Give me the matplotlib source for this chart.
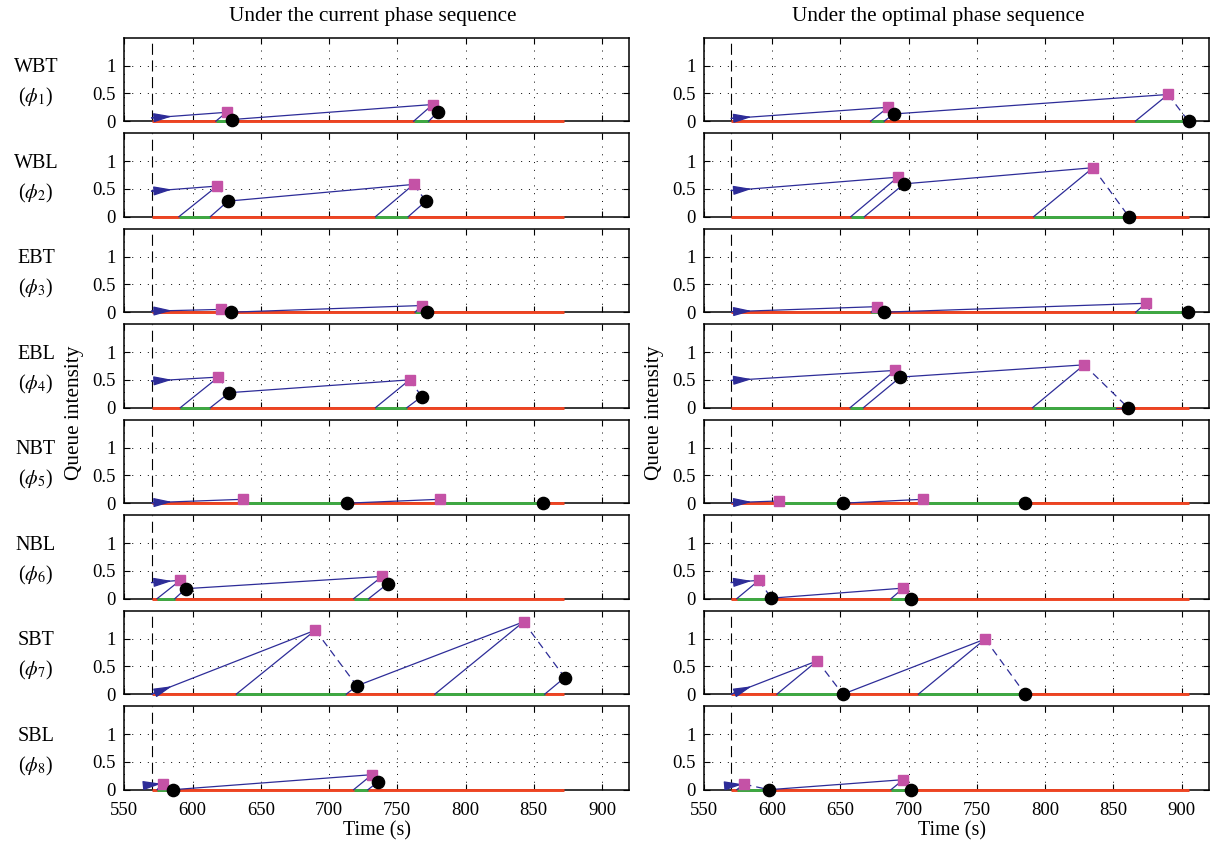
import matplotlib
matplotlib.use('Agg')
import matplotlib.pyplot as plt

plt.rcParams['font.family'] = ['Liberation Serif', 'DejaVu Serif']
plt.rcParams['mathtext.fontset'] = 'stix'

# ---------------- data ----------------
phase_names = ['WBT', 'WBL', 'EBT', 'EBL', 'NBT', 'NBL', 'SBT', 'SBL']
phase_syms = [r'($\phi_{%d}$)' % i for i in range(1, 9)]
col_titles = ['Under the current phase sequence', 'Under the optimal phase sequence']
xticks = [550, 600, 650, 700, 750, 800, 850, 900]
yticks = [0, 0.5, 1]
yticklabels = ['0', '0.5', '1']
t_start = 570
t_end_cur = 872
t_end_opt = 905

# current phase sequence
q0_cur = [0.06, 0.46, 0.02, 0.48, 0.01, 0.29, 0.0, 0.09]
gs_cur = [[617, 762], [590, 734], [619, 763], [591, 734], [634, 778], [574, 718], [632, 777.5], [574, 718]]
ge_cur = [[628, 773], [613, 758], [627, 769], [613, 757], [713, 857], [587, 729], [712.6, 858], [583.5, 728.5]]
sqt_cur = [[625, 776], [618, 762], [621, 768], [619, 759], [637, 781], [591, 739], [690, 842.5], [578, 731.5]]
sqq_cur = [[0.16, 0.30], [0.55, 0.58], [0.05, 0.12], [0.55, 0.50], [0.07, 0.07], [0.33, 0.40], [1.15, 1.30], [0.11, 0.27]]
ct_cur = [[629, 780], [626, 771], [628, 772], [627, 768], [713, 857], [595, 743], [720.4, 872.7], [585.6, 736]]
cq_cur = [[0.03, 0.17], [0.28, 0.28], [0.0, 0.0], [0.27, 0.20], [0.0, 0.0], [0.18, 0.27], [0.15, 0.30], [0.0, 0.14]]
dend_cur = [[None, None], [None, None], [None, None], [None, None],
            [(639, 0.0), (783, 0.0)], [None, None], [None, None], [None, None]]

# optimal phase sequence
q0_opt = [0.05, 0.47, 0.01, 0.49, 0.01, 0.29, 0.0, 0.08]
gs_opt = [[672, 866], [657.5, 791.5], [672.4, 866.3], [657, 790.7], [606, 711], [574, 687], [603.4, 707], [574, 687]]
ge_opt = [[682, 904], [667.5, 861], [678.5, 903], [666.8, 851.7], [651.7, 785.4], [595.6, 699.3], [651.7, 785.4], [596.8, 699.3]]
sqt_opt = [[685, 890], [692, 835], [676.8, 873.7], [690.2, 828.5], [604.9, 710.2], [590.2, 696], [633, 756], [579.3, 696]]
sqq_opt = [[0.25, 0.48], [0.71, 0.88], [0.10, 0.16], [0.67, 0.77], [0.04, 0.07], [0.33, 0.19], [0.60, 0.99], [0.10, 0.18]]
ct_opt = [[689, 905], [696.6, 861.3], [681.7, 904.6], [693.9, 860.7], [651.7, 785.4], [599.3, 701.7], [651.7, 785.4], [597.6, 701.7]]
cq_opt = [[0.13, 0.0], [0.59, 0.0], [0.0, 0.0], [0.55, 0.0], [0.0, 0.0], [0.01, 0.0], [0.0, 0.0], [0.0, 0.0]]
dend_opt = [[None, None], [None, None], [None, (877.3, 0.0)], [None, None],
            [(607, 0.0), (712.5, 0.0)], [None, None], [None, None], [None, None]]

# ---------------- style ----------------
BLUE = '#2d2c98'
RED = '#ee4422'
GREEN = '#3baa44'
MAG = '#c452a6'

W, H = 1210, 843
fig = plt.figure(figsize=(W / 100, H / 100), dpi=100)

col_left_px = [124.3, 704.0]
col_width_px = 505.0
row_top0 = 37.7
row_pitch = 95.5
row_h = 83.5


def draw_panel(ax, t_end, q0, gs, ge, st, sq, ct, cq, dend):
    ax.set_xlim(550, 920)
    ax.set_ylim(0, 1.5)
    ax.plot([t_start, t_start], [0, 1.5], color='k', lw=0.8, ls=(0, (10, 5)), zorder=2)
    ax.plot([t_start, t_end], [0, 0], color=RED, lw=2.1, solid_capstyle='butt', zorder=3, clip_on=False)
    for a, b in zip(gs, ge):
        ax.plot([a, b], [0, 0], color=GREEN, lw=2.1, solid_capstyle='butt', zorder=3.1, clip_on=False)
    prev_t, prev_q = t_start, q0
    for i in range(len(st)):
        ax.plot([prev_t, st[i]], [prev_q, sq[i]], color=BLUE, lw=0.9, zorder=4, clip_on=False)
        ax.plot([gs[i], st[i]], [0, sq[i]], color=BLUE, lw=0.9, zorder=4, clip_on=False)
        ax.plot([ge[i], ct[i]], [0, cq[i]], color=BLUE, lw=0.9, zorder=4, clip_on=False)
        de = dend[i] if dend[i] is not None else (ct[i], cq[i])
        ax.plot([st[i], de[0]], [sq[i], de[1]], color=BLUE, lw=0.9, ls=(0, (6, 4)), zorder=4, clip_on=False)
        prev_t, prev_q = ct[i], cq[i]
    # arrow on the initial queue line
    frac = min(15.0, 0.9 * (st[0] - t_start)) / (st[0] - t_start)
    tip = (t_start + frac * (st[0] - t_start), q0 + frac * (sq[0] - q0))
    ax.annotate('', xy=tip, xytext=(t_start, q0),
                arrowprops=dict(arrowstyle='-|>,head_length=0.8,head_width=0.2', color=BLUE,
                                lw=0.9, shrinkA=0, shrinkB=0, mutation_scale=14),
                zorder=5)
    for i in range(len(st)):
        ax.plot([st[i]], [sq[i]], 's', color=MAG, ms=6.8, mec=MAG, zorder=6, clip_on=False)
        ax.plot([ct[i]], [cq[i]], 'o', color='k', ms=8.8, zorder=7, clip_on=False)


columns = [
    (t_end_cur, q0_cur, gs_cur, ge_cur, sqt_cur, sqq_cur, ct_cur, cq_cur, dend_cur),
    (t_end_opt, q0_opt, gs_opt, ge_opt, sqt_opt, sqq_opt, ct_opt, cq_opt, dend_opt),
]

for c, data in enumerate(columns):
    t_end, q0s, gss, ges, sts, sqs, cts, cqs, dends = data
    for r in range(8):
        top = row_top0 + r * row_pitch
        ax = fig.add_axes([col_left_px[c] / W, 1 - (top + row_h) / H, col_width_px / W, row_h / H])
        draw_panel(ax, t_end, q0s[r], gss[r], ges[r], sts[r], sqs[r], cts[r], cqs[r], dends[r])
        ax.set_xticks(xticks)
        ax.set_yticks(yticks)
        ax.set_yticklabels(yticklabels)
        ax.grid(True, color='k', lw=0.7, ls=(0, (1, 7)))
        ax.set_axisbelow(True)
        ax.tick_params(direction='in', length=4, width=0.8, top=True, right=True,
                       labelsize=13.5, pad=6)
        if r < 7:
            ax.set_xticklabels([])
        else:
            ax.set_xticklabels([str(v) for v in xticks])
            ax.tick_params(axis='x', pad=9)
        for s in ax.spines.values():
            s.set_linewidth(1.1)
        if c == 0:
            fig.text(36 / W, 1 - (top + 30) / H, phase_names[r], ha='center', va='center', fontsize=14.5)
            fig.text(36 / W, 1 - (top + 60) / H, phase_syms[r], ha='center', va='center', fontsize=14.5)

fig.text(373 / W, 1 - 17 / H, col_titles[0], ha='center', va='center', fontsize=15.3)
fig.text(938 / W, 1 - 17 / H, col_titles[1], ha='center', va='center', fontsize=15.3)
fig.text(75 / W, 1 - 413 / H, 'Queue intensity', rotation=90, ha='center', va='center', fontsize=15.3)
fig.text(655 / W, 1 - 413 / H, 'Queue intensity', rotation=90, ha='center', va='center', fontsize=15.3)
fig.text(377 / W, 1 - 831 / H, 'Time (s)', ha='center', va='center', fontsize=14.5)
fig.text(952 / W, 1 - 831 / H, 'Time (s)', ha='center', va='center', fontsize=14.5)

fig.savefig('out.png', dpi=100)
